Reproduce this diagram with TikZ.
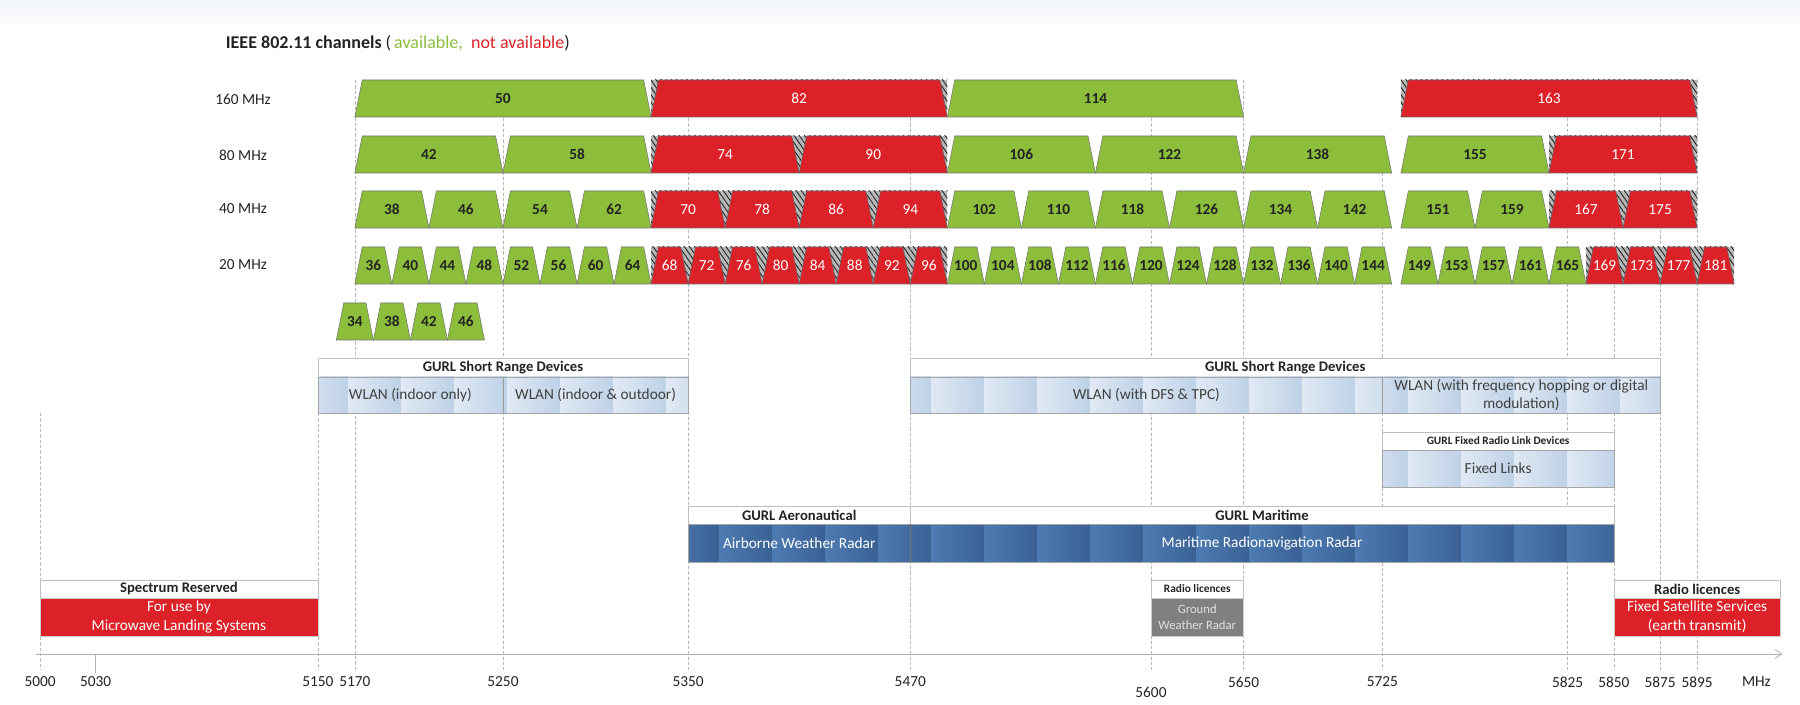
\documentclass[tikz,border=0pt]{standalone}
\usepackage{fontspec}
\setmainfont{Carlito}
\usetikzlibrary{arrows.meta}
\usetikzlibrary{patterns.meta}
\definecolor{custom-green}{RGB}{140, 190, 60}
\definecolor{custom-red}{RGB}{221, 33, 41}
\definecolor{custom-pale}{RGB}{224, 233, 244}
\definecolor{custom-sky}{RGB}{190, 209, 230}
\definecolor{custom-navy}{RGB}{58, 97, 148}
\definecolor{custom-steel}{RGB}{78, 123, 178}
\definecolor{custom-gray}{RGB}{128, 128, 130}
\definecolor{custom-text}{RGB}{35, 35, 35}
\definecolor{custom-fog}{RGB}{240, 244, 248}

% one channel: number, width (MHz), top (px), 1 = available / 0 = not
\newcommand{\channel}[4]{%
  \pgfmathsetmacro{\cc}{5000+5*#1}%
  \pgfmathsetmacro{\lo}{\cc-#2/2}%
  \pgfmathsetmacro{\hi}{\cc+#2/2}%
  \ifnum#4=0
    \fill[hatch] (\lo,#3) rectangle (\hi,#3+37);
    \filldraw[busy] (\lo,#3+37) -- (\lo+4,#3) -- (\hi-4,#3) -- (\hi,#3+37) -- cycle;
    \node[busylabel] (ch#1-#2) at (\cc,#3+18.5) {#1};
  \else
    \filldraw[free] (\lo,#3+37) -- (\lo+4,#3) -- (\hi-4,#3) -- (\hi,#3+37) -- cycle;
    \node[freelabel] (ch#1-#2) at (\cc,#3+18.5) {#1};
  \fi
}

% striped band: x1, x2, y1, y2, light, dark
\newcommand{\band}[6]{%
  \begin{scope}
    \clip (#1,#3) rectangle (#2,#4);
    \foreach \k in {-8,...,27}
      \shade[left color=#5, right color=#6] ({5166.4+28.63*\k},#3) rectangle ({5166.4+28.63*(\k+1)},#4);
  \end{scope}
  \draw[bodyline] (#1,#3) rectangle (#2,#4);
}

\begin{document}
\begin{tikzpicture}[x=1.38855pt, y=-0.75pt,
    free/.style={fill=custom-green, draw=black!55, line width=0.4pt},
    busy/.style={fill=custom-red, draw=black!60, line width=0.4pt},
    hatch/.style={fill=black!28, postaction={pattern={Lines[angle=-55, distance=3.2pt, line width=0.7pt]}, pattern color=black!85}},
    freelabel/.style={font=\fontsize{11.5}{14}\selectfont\bfseries, text=custom-text},
    busylabel/.style={font=\fontsize{11.5}{14}\selectfont, text=white},
    rowlabel/.style={font=\fontsize{11.5}{14}\selectfont, text=custom-text},
    griddash/.style={black!28, line width=0.5pt, dash pattern=on 2.5pt off 1.5pt},
    headbox/.style={fill=white, draw=black!25, line width=0.5pt},
    bodyline/.style={draw=black!35, line width=0.5pt},
    headtext/.style={font=\fontsize{11}{13}\selectfont\bfseries, text=custom-text},
    smallhead/.style={font=\fontsize{8.5}{10}\selectfont\bfseries, text=custom-text},
    bodytext/.style={font=\fontsize{11.5}{14}\selectfont, text=black!75, align=center},
    whitetext/.style={font=\fontsize{11.5}{14}\selectfont, text=white, align=center},
    axislabel/.style={font=\fontsize{11.5}{14}\selectfont, text=custom-text}]

\useasboundingbox (4978.395,0) rectangle (5950.63,705);
\shade[top color=custom-fog, bottom color=white] (4978.395,0) rectangle (5950.63,30);

% title
\node[anchor=west, font=\fontsize{13.5}{16}\selectfont, text=custom-text] (title) at (5097.8,43)
  {\bfseries IEEE 802.11 channels \mdseries(\,\textcolor{custom-green}{available,}\ \ \textcolor{custom-red}{not available})};

% grid lines
\foreach \f/\top in {5000/413, 5150/413, 5170/80, 5250/118, 5350/118, 5470/118, 5600/118,
                     5650/80, 5725/173, 5825/118, 5850/173, 5875/118, 5895/80}
  \draw[griddash] (\f,\top) -- (\f,670);
\draw[black!30, line width=0.6pt] (5030,654) -- (5030,673);

% row labels
\node[rowlabel] (r160) at (5109.6,99) {160 MHz};
\node[rowlabel] (r80) at (5109.6,155) {80 MHz};
\node[rowlabel] (r40) at (5109.6,209) {40 MHz};
\node[rowlabel] (r20) at (5109.6,265) {20 MHz};

% 160 MHz
\foreach \n/\ok in {50/1, 82/0, 114/1, 163/0} {\channel{\n}{160}{80}{\ok}}
% 80 MHz
\foreach \n/\ok in {42/1, 58/1, 74/0, 90/0, 106/1, 122/1, 138/1, 155/1, 171/0} {\channel{\n}{80}{136}{\ok}}
% 40 MHz
\foreach \n/\ok in {38/1, 46/1, 54/1, 62/1, 70/0, 78/0, 86/0, 94/0, 102/1, 110/1, 118/1,
                    126/1, 134/1, 142/1, 151/1, 159/1, 167/0, 175/0} {\channel{\n}{40}{191}{\ok}}
% 20 MHz
\foreach \n in {36,40,...,64} {\channel{\n}{20}{247}{1}}
\foreach \n in {68,72,...,96} {\channel{\n}{20}{247}{0}}
\foreach \n in {100,104,...,144} {\channel{\n}{20}{247}{1}}
\foreach \n in {149,153,...,165} {\channel{\n}{20}{247}{1}}
\foreach \n in {169,173,...,181} {\channel{\n}{20}{247}{0}}
% older 20 MHz set
\foreach \n in {34,38,42,46} {\channel{\n}{20}{303}{1}}

% GURL short range devices
\filldraw[headbox] (5150,358) rectangle (5350,377);
\node[headtext] (srdA) at (5250,367.5) {GURL Short Range Devices};
\band{5150}{5350}{377}{413}{custom-pale}{custom-sky}
\draw[black!40, line width=0.5pt] (5250,377) -- (5250,413);
\node[bodytext] (indoor) at (5200,395) {WLAN (indoor only)};
\node[bodytext] (outdoor) at (5300,395) {WLAN (indoor \& outdoor)};

\filldraw[headbox] (5470,358) rectangle (5875,377);
\node[headtext] (srdB) at (5672.5,367.5) {GURL Short Range Devices};
\band{5470}{5875}{377}{413}{custom-pale}{custom-sky}
\draw[black!40, line width=0.5pt] (5725,377) -- (5725,413);
\node[bodytext] (dfs) at (5597.5,395) {WLAN (with DFS \& TPC)};
\node[bodytext] (hopping) at (5800,395) {WLAN (with frequency hopping or digital\\modulation)};

% fixed links
\filldraw[headbox] (5725,432) rectangle (5850,450);
\node[smallhead] (fixedhead) at (5787.5,441) {GURL Fixed Radio Link Devices};
\band{5725}{5850}{450}{487}{custom-pale}{custom-sky}
\node[bodytext] (fixed) at (5787.5,468.5) {Fixed Links};

% aeronautical / maritime
\filldraw[headbox] (5350,506) rectangle (5470,524);
\filldraw[headbox] (5470,506) rectangle (5850,524);
\node[headtext] (aerohead) at (5410,515) {GURL Aeronautical};
\node[headtext] (marhead) at (5660,515) {GURL Maritime};
\band{5350}{5850}{524}{562}{custom-steel}{custom-navy}
\draw[black!55, line width=0.5pt] (5470,524) -- (5470,562);
\node[whitetext] (airborne) at (5410,543) {Airborne Weather Radar};
\node[whitetext] (maritime) at (5660,543) {Maritime Radionavigation Radar};

% spectrum reserved
\filldraw[headbox] (5000,580) rectangle (5150,598);
\node[headtext] (reshead) at (5075,589) {Spectrum Reserved};
\filldraw[fill=custom-red, draw=black!20, line width=0.5pt] (5000,598) rectangle (5150,636);
\node[whitetext] (mls) at (5075,617) {For use by\\Microwave Landing Systems};

% ground weather radar
\filldraw[headbox] (5600,580) rectangle (5650,598);
\node[smallhead] (gwrhead) at (5625,589) {Radio licences};
\filldraw[fill=custom-gray, draw=black!20, line width=0.5pt] (5600,598) rectangle (5650,636);
\node[font=\fontsize{9.5}{11.5}\selectfont, text=black!12, align=center] (gwr) at (5625,617) {Ground\\Weather Radar};

% fixed satellite
\filldraw[headbox] (5850,580) rectangle (5940,598);
\node[headtext] (fsshead) at (5895,589) {Radio licences};
\filldraw[fill=custom-red, draw=black!20, line width=0.5pt] (5850,598) rectangle (5940,636);
\node[whitetext] (fss) at (5895,617) {Fixed Satellite Services\\(earth transmit)};

% frequency axis
\draw[black!30, line width=0.6pt, -{Straight Barb[length=5pt, width=7pt]}] (4998,654) -- (5941,654);
\foreach \f in {5000,5030,5150,5170,5250,5350,5470,5650,5725,5825,5850,5875,5895}
  \node[axislabel] (f\f) at (\f,682) {\f};
\node[axislabel] (f5600) at (5600,692) {5600};
\node[axislabel] (unit) at (5927,682) {MHz};
\end{tikzpicture}
\end{document}
